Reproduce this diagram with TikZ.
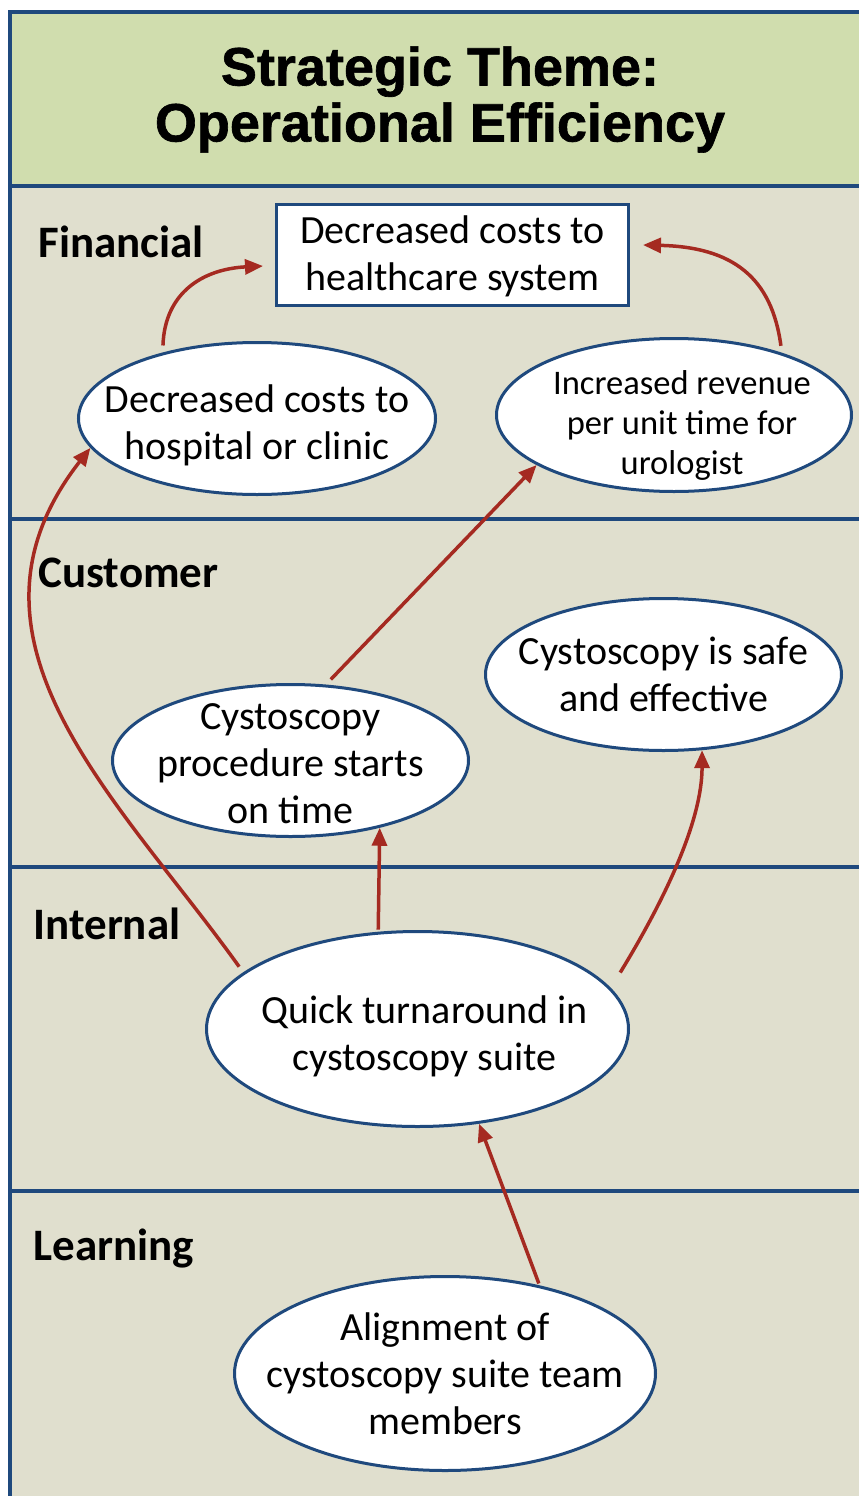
\documentclass[tikz,border=0pt]{standalone}
\usepackage{fontspec}
\setmainfont{Carlito}
\newfontfamily\titlefont[BoldFeatures={FakeBold=1.2}]{Liberation Sans}
\usetikzlibrary{shapes.geometric,arrows.meta}
\definecolor{bscblue}{RGB}{31,73,125}
\definecolor{bscred}{RGB}{165,42,33}
\definecolor{bscgreen}{RGB}{208,221,174}
\definecolor{bscbeige}{RGB}{224,223,206}

\begin{document}
\begin{tikzpicture}[x=1pt,y=-1pt,
  lane/.style={line width=4.5pt,draw=bscblue},
  goal/.style={ellipse,draw=bscblue,line width=3pt,fill=white,inner sep=-40pt,align=center,font=\fontsize{40}{47}\selectfont},
  persp/.style={anchor=base west,font=\fontsize{45}{54}\selectfont\bfseries},
  link/.style={->,>={Triangle[length=18pt,width=15pt]},draw=bscred,line width=3.5pt,shorten <=7pt}]
\useasboundingbox (0,0) rectangle (859,1496);
\clip (0,0) rectangle (859,1496);

% lanes
\fill[bscgreen] (10,12) rectangle (880,186);
\fill[bscbeige] (10,186) rectangle (880,1520);
\draw[lane] (880,12) -- (10,12) -- (10,1520);
\foreach \y in {186,519,867,1191}
  \draw[lane] (10,\y) -- (880,\y);

\node[font=\titlefont\bfseries\fontsize{54}{56}\selectfont,align=center] (title) at (440,99.5) {Strategic Theme:\\Operational Efficiency};

\node[persp] (fin) at (35,257) {Financial};
\node[persp] (cus) at (35,587) {Customer};
\node[persp] (int) at (30,939) {Internal};
\node[persp] (lrn) at (30,1260) {Learning};

% objectives
\node[draw=bscblue,line width=3pt,fill=white,minimum width=352pt,minimum height=101pt,inner sep=0pt,align=center,font=\fontsize{40}{47}\selectfont] (hc) at (452.5,255) {\rule{0pt}{31pt}Decreased costs to\\healthcare system};
\node[goal,minimum width=357pt,minimum height=152pt] (hosp) at (257,418.5) {\rule{0pt}{42pt}Decreased costs to\\hospital or clinic};
\node[goal,minimum width=355pt,minimum height=153pt,font=\fontsize{34.5}{40}\selectfont] (rev) at (674,415) {\hspace*{16pt}\rule{0pt}{44pt}Increased revenue\\\hspace*{16pt}per unit time for\\\hspace*{16pt}urologist};
\node[goal,minimum width=356pt,minimum height=152pt] (proc) at (290.5,760.5) {\rule{0pt}{32pt}Cystoscopy\\procedure starts\\on time};
\node[goal,minimum width=356pt,minimum height=152pt] (safe) at (663.5,674.5) {Cystoscopy is safe\\and effective};
\node[goal,minimum width=422pt,minimum height=195pt] (quick) at (417.5,1029) {\hspace*{14pt}\rule{0pt}{42pt}Quick turnaround in\\\hspace*{14pt}cystoscopy suite};
\node[goal,minimum width=421pt,minimum height=194pt] (aln) at (445,1373.5) {Alignment of\\cystoscopy suite team\\members};

% links
\draw[link] (hosp.145) .. controls +(2,-60) and +(-60,3) .. ([xshift=-12pt,yshift=-11pt]hc.west);
\draw[link] (rev.30) .. controls +(-10,-75) and +(90,2) .. ([xshift=13pt,yshift=10pt]hc.east);
\draw[link] (quick.162) .. controls (120,800) and (-60,640) .. (hosp.190);
\draw[link] (proc.65) -- (rev.200);
\draw[link,shorten <=2pt] (quick.112) -- (proc.-37);
\draw[link,shorten <=18pt] (quick.12) .. controls +(55,-90) and +(0,70) .. (safe.-63);
\draw[link,shorten <=2pt] (aln.43) -- (quick.-57);
\end{tikzpicture}
\end{document}
